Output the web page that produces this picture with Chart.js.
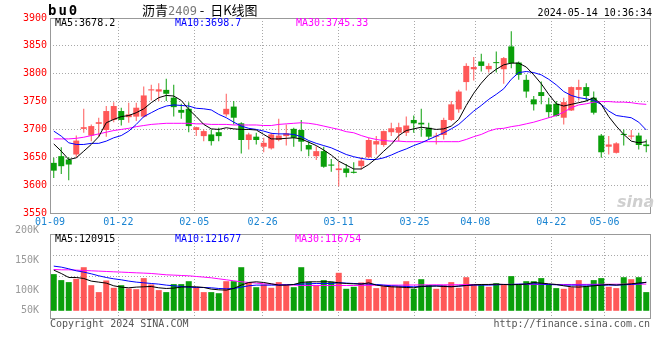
<!DOCTYPE html>
<html><head><meta charset="utf-8">
<script src="https://cdn.jsdelivr.net/npm/chart.js@4.4.1/dist/chart.umd.min.js"></script>
<style>
html,body{margin:0;padding:0;background:#fff;}
#wrap{position:relative;width:660px;height:360px;overflow:hidden;background:#fff;}
canvas{position:absolute;left:0;}
#cA{top:0;z-index:1;} #cB{top:222px;z-index:2;}
.t{position:absolute;white-space:pre;font-family:'DejaVu Sans Mono',monospace;font-size:10px;line-height:12px;z-index:5;}
</style></head><body>
<div id="wrap">
<canvas id="cA" width="660" height="232"></canvas>
<canvas id="cB" width="660" height="138"></canvas>
<div class="t" style="left:48px;top:2px;font-size:14px;line-height:16px;font-weight:bold;letter-spacing:2px;">bu0</div>
<div class="t" style="left:142px;top:2px;font-family:'Noto Sans CJK SC',sans-serif;font-size:13px;line-height:16px;">沥青<span style="color:#777;font-family:'DejaVu Sans Mono',monospace;font-size:12px;">2409</span> -  日K线图</div>
<div class="t" id="stamp" style="right:8px;top:7px;"></div>
<div class="t" id="pl0" style="left:55px;top:17px;color:#000;"></div>
<div class="t" id="pl1" style="left:175px;top:17px;color:#0000ff;"></div>
<div class="t" id="pl2" style="left:296px;top:17px;color:#ff00ff;"></div>
<div class="t" id="vl0" style="left:55px;top:233px;color:#000;"></div>
<div class="t" id="vl1" style="left:175px;top:233px;color:#0000ff;"></div>
<div class="t" id="vl2" style="left:295px;top:233px;color:#ff00ff;"></div>
<div class="t" style="left:50px;top:318px;color:#555;">Copyright 2024 SINA.COM</div>
<div class="t" style="right:10px;top:318px;color:#555;">http://finance.sina.com.cn</div>
<div class="t" style="left:617px;top:193px;font-family:'DejaVu Sans',sans-serif;font-style:italic;font-weight:bold;font-size:16px;line-height:18px;color:#cfcfcf;">sina</div>
</div>
<script>
// ---- data ----
const dates = [
'01-09','01-10','01-11','01-12','01-15','01-16','01-17','01-18','01-19','01-22',
'01-23','01-24','01-25','01-26','01-29','01-30','01-31','02-01','02-02','02-05',
'02-06','02-07','02-08','02-19','02-20','02-21','02-22','02-23','02-26','02-27',
'02-28','02-29','03-01','03-04','03-05','03-06','03-07','03-08','03-11','03-12',
'03-13','03-14','03-15','03-18','03-19','03-20','03-21','03-22','03-25','03-26',
'03-27','03-28','03-29','04-01','04-02','04-03','04-08','04-09','04-10','04-11',
'04-12','04-15','04-16','04-17','04-18','04-19','04-22','04-23','04-24','04-25',
'04-26','04-29','04-30','05-06','05-07','05-08','05-09','05-10','05-13','05-14'];
const axisDates = ['01-09','01-22','02-05','02-26','03-11','03-25','04-08','04-22','05-06'];
const opens = [
3640,3652,3646,3655,3701,3689,3710,3699,3717,3733,
3722,3723,3723,3770,3768,3771,3757,3735,3737,3699,
3688,3691,3695,3727,3741,3711,3681,3687,3669,3666,
3681,3688,3701,3699,3672,3652,3661,3637,3627,3630,
3624,3634,3650,3673,3672,3695,3694,3694,3717,3712,
3703,3687,3690,3717,3736,3785,3808,3822,3808,3820,
3808,3849,3820,3789,3754,3767,3745,3746,3721,3734,
3771,3776,3757,3689,3669,3658,3692,3687,3689,3673];
const closes = [
3626,3634,3637,3680,3704,3706,3713,3733,3742,3717,
3727,3739,3761,3772,3772,3764,3740,3730,3706,3704,
3697,3679,3688,3737,3721,3681,3691,3681,3676,3691,
3689,3693,3685,3678,3664,3661,3633,3635,3630,3622,
3622,3644,3681,3679,3697,3702,3704,3707,3711,3709,
3687,3688,3717,3745,3768,3814,3812,3814,3814,3819,
3828,3819,3798,3768,3745,3760,3731,3724,3749,3776,
3776,3760,3730,3659,3673,3675,3690,3689,3672,3670];
const highs = [
3649,3668,3650,3689,3737,3709,3721,3742,3749,3739,
3748,3748,3777,3780,3783,3791,3780,3746,3749,3705,
3700,3700,3703,3764,3751,3713,3694,3694,3685,3694,
3719,3709,3703,3717,3679,3670,3669,3647,3642,3638,
3641,3650,3685,3688,3698,3712,3712,3723,3725,3737,
3712,3694,3721,3751,3771,3819,3830,3836,3819,3840,
3830,3876,3822,3798,3760,3786,3757,3751,3757,3777,
3789,3783,3768,3692,3688,3677,3700,3699,3694,3682];
const lows = [
3613,3620,3609,3650,3694,3679,3687,3687,3713,3707,
3712,3715,3721,3752,3751,3751,3723,3719,3695,3688,
3679,3671,3679,3723,3709,3657,3664,3673,3659,3664,
3679,3671,3669,3661,3652,3645,3631,3624,3598,3614,
3621,3628,3648,3655,3669,3688,3679,3688,3694,3687,
3682,3673,3682,3715,3730,3770,3788,3804,3802,3802,
3782,3810,3789,3757,3734,3745,3721,3723,3709,3733,
3752,3751,3727,3649,3655,3657,3671,3682,3664,3659];
const ma5 = [
3674,3661,3646,3649,3661,3673,3687,3712,3718,3723,
3725,3730,3737,3748,3757,3761,3760,3752,3736,3723,
3709,3701,3700,3703,3701,3700,3700,3699,3691,3683,
3683,3684,3685,3683,3677,3671,3663,3654,3643,3636,
3629,3629,3637,3648,3661,3673,3689,3698,3701,3704,
3702,3700,3701,3706,3718,3743,3765,3783,3798,3808,
3816,3819,3819,3812,3798,3782,3763,3746,3742,3745,
3748,3751,3757,3745,3723,3706,3691,3679,3676,3678];
const ma10 = [
3697,3688,3676,3673,3673,3675,3675,3679,3685,3689,
3697,3709,3723,3730,3737,3742,3744,3743,3742,3738,
3737,3735,3727,3721,3713,3706,3702,3700,3697,3693,
3692,3692,3691,3687,3680,3675,3671,3667,3661,3655,
3651,3648,3646,3646,3649,3654,3660,3665,3671,3676,
3682,3688,3694,3701,3709,3721,3733,3743,3754,3763,
3773,3790,3802,3804,3802,3798,3790,3780,3768,3761,
3757,3755,3752,3745,3733,3725,3723,3721,3713,3699];
const ma30 = [
3683,3683,3683,3684,3686,3689,3692,3695,3698,3700,
3702,3705,3707,3709,3710,3711,3711,3711,3711,3710,
3710,3709,3709,3709,3708,3708,3708,3708,3707,3707,
3709,3710,3711,3712,3711,3709,3706,3703,3700,3696,
3694,3689,3685,3682,3680,3679,3679,3678,3678,3678,
3678,3678,3678,3678,3678,3682,3687,3691,3697,3701,
3702,3705,3707,3710,3713,3717,3721,3725,3731,3739,
3744,3746,3749,3750,3750,3749,3749,3748,3746,3745];
const volumes = [
141700,126700,121700,130000,159000,114000,96700,125800,107500,114000,
105800,104000,131700,115800,101700,96700,116700,116700,124000,109000,
96700,96700,94000,124000,124000,159000,120800,109000,115800,107500,
121700,115800,109000,159000,122500,114000,126700,122500,145000,105000,
110000,120800,129000,106700,111700,111700,111700,124000,105000,129000,
114000,105000,114000,121700,107500,134000,115800,115800,110000,119000,
115800,136700,115800,124000,124000,131700,115800,106700,105000,109000,
126700,111700,126700,131700,110000,106700,134000,129000,134000,96700];
const vma5 = [
151700,143300,133300,133300,130800,124200,121700,119200,112500,109200,
107500,109200,110000,110800,107500,105800,106700,109200,110000,110000,
108300,104200,102500,101700,105800,114200,120800,122500,120800,117500,
114200,114200,115800,120800,122500,122500,122500,122500,120000,118300,
117500,116700,120000,114200,111700,110000,109200,108300,107500,110800,
111700,111700,110800,110000,111700,113300,115000,115800,115800,116700,
115800,115000,115800,116700,120800,119200,117500,115800,112500,110000,
109200,110800,112500,114200,115800,114200,115800,117500,119500,120915];
const vma10 = [
161700,159200,155000,150000,146700,142500,137500,133300,130000,127500,
124200,121700,120000,118300,116700,114200,112500,110800,109200,108300,
108300,107500,105800,105000,105800,109200,112500,114200,114200,114200,
114200,115000,115800,116700,117500,118300,118300,118300,120000,119200,
118300,117500,116700,115800,114200,112500,111700,110800,110000,110800,
111700,112500,111700,110800,111700,113300,114200,114200,114200,115000,
115800,115800,116700,116700,117500,116700,115800,115000,114200,114200,
114200,114200,114200,114200,114200,114200,115000,115800,117500,121677];
const vma30 = [
153300,152500,152500,151700,150800,150000,149200,148300,147500,146700,
145800,145000,144200,143300,141700,140000,139200,138300,137500,135800,
134200,132500,130000,127500,125000,122500,120800,119200,117500,116700,
115800,115000,114200,113300,113300,113300,113300,113300,113300,113300,
113300,113500,113800,114000,114000,114200,114200,114500,114500,114800,
114800,115000,115000,115000,115200,115500,115500,115800,115800,115800,
116000,116000,116000,116200,116200,116000,115800,115800,115800,115800,
116000,116000,116200,116200,116300,116400,116500,116600,116700,116754];
const priceLegend = ['MA5:3678.2','MA10:3698.7','MA30:3745.33'];
const volLegend = ['MA5:120915','MA10:121677','MA30:116754'];
const volTickLabels = ['200K','150K','100K','50K'];
const stampText = '2024-05-14 10:36:34';

// ---- texts ----
document.getElementById('stamp').textContent = stampText;
['pl0','pl1','pl2'].forEach((id,i)=>document.getElementById(id).textContent = priceLegend[i]);
['vl0','vl1','vl2'].forEach((id,i)=>document.getElementById(id).textContent = volLegend[i]);

// ---- styles ----
const RED = '#ff5858', GREEN = '#0a9f0a';
const up = closes.map((c,i)=>c>=opens[i]);
const cols = up.map(u=>u?RED:GREEN);
const MONO = {family:"'DejaVu Sans Mono', monospace", size:10};
const GRID = '#a8a8a8';

const framePlugin = {
  id:'frame',
  afterDraw(chart){
    const {ctx, chartArea:a} = chart;
    ctx.save();
    ctx.strokeStyle = '#999';
    ctx.lineWidth = 1;
    ctx.setLineDash([]);
    ctx.strokeRect(Math.round(a.left)+0.5, Math.round(a.top)+0.5,
                   Math.round(a.right-a.left), Math.round(a.bottom-a.top));
    ctx.restore();
  }
};

function dateGridAxis(showLabels, h){
  return {
    type:'linear', position:'bottom', min:0, max:dates.length-1, offset:false,
    afterBuildTicks: ax => { ax.ticks = axisDates.map(d=>({value: dates.indexOf(d)})); },
    ticks:{display:showLabels, autoSkip:false, maxRotation:0, padding:3, color:'#1a84d2', font:MONO,
           callback: v => dates[v]},
    grid:{color:GRID, drawTicks:false, lineWidth:1, offset:false},
    border:{display:false, dash:[1,2]},
    afterFit: s => { s.height = h; }
  };
}
const lineDs = (data, color, yId) => ({type:'line', data, borderColor:color, borderWidth:1,
  pointRadius:0, fill:false, tension:0, order:0, xAxisID:'x', yAxisID:yId});

Chart.defaults.animation = false;

// ---- price chart ----
new Chart(document.getElementById('cA'), {
  type:'bar',
  data:{
    labels: dates,
    datasets:[
      lineDs(ma5,'#000000','y'),
      lineDs(ma10,'#0000ff','y'),
      lineDs(ma30,'#ff00ff','y'),
      {data: opens.map((o,i)=>[o, closes[i]]), backgroundColor: cols, barThickness:6, grouped:false,
       borderWidth:0, inflateAmount:0, minBarLength:1, order:1, xAxisID:'x', yAxisID:'y'},
      {data: lows.map((l,i)=>[l, highs[i]]), backgroundColor: cols, barThickness:1, grouped:false,
       borderWidth:0, inflateAmount:0, order:2, xAxisID:'x', yAxisID:'y'}
    ]
  },
  options:{
    responsive:false, devicePixelRatio:1, animation:false,
    layout:{padding:{top:18, right:10, left:0, bottom:0}},
    plugins:{legend:{display:false}, tooltip:{enabled:false}},
    scales:{
      x:{type:'category', display:false, offset:true},
      xg: dateGridAxis(true, 19),
      y:{type:'linear', position:'left', min:3550, max:3900,
         ticks:{stepSize:50, color:'#ff0000', font:MONO, padding:3, callback: v => String(v)},
         grid:{color:GRID, drawTicks:false},
         border:{display:false, dash:[1,2]},
         afterFit: s => { s.width = 50; }}
    }
  },
  plugins:[framePlugin]
});

// ---- volume chart ----
const volMin = 32000, volMax = 242000;
const volLabelAt = [250250, 175250, 100000, 50000];
new Chart(document.getElementById('cB'), {
  type:'bar',
  data:{
    labels: dates,
    datasets:[
      lineDs(vma5,'#000000','y'),
      lineDs(vma10,'#0000ff','y'),
      lineDs(vma30,'#ff00ff','y'),
      {data: volumes, base:50000, backgroundColor: cols, barThickness:6, grouped:false,
       borderWidth:0, inflateAmount:0, order:1, xAxisID:'x', yAxisID:'y'}
    ]
  },
  options:{
    responsive:false, devicePixelRatio:1, animation:false,
    layout:{padding:{top:12, right:10, left:0, bottom:0}},
    plugins:{legend:{display:false}, tooltip:{enabled:false}},
    scales:{
      x:{type:'category', display:false, offset:true},
      xg: dateGridAxis(false, 42),
      y:{type:'linear', position:'left', min:volMin, max:volMax,
         afterBuildTicks: ax => { ax.ticks = volLabelAt.map(v=>({value:v})); },
         ticks:{autoSkip:false, color:'#999', font:MONO, padding:3,
                callback:(v,i)=>volTickLabels[i]},
         grid:{display:false}, border:{display:false},
         afterFit: s => { s.width = 50; }},
      yg:{type:'linear', position:'right', min:volMin, max:volMax,
         afterBuildTicks: ax => { ax.ticks = [1,2,3].map(k=>({value: volMin + k*(volMax-volMin)/4})); },
         ticks:{display:false},
         grid:{color:GRID, drawTicks:false},
         border:{display:false, dash:[1,2]},
         afterFit: s => { s.width = 0; }}
    }
  },
  plugins:[framePlugin]
});
</script>
</body></html>
